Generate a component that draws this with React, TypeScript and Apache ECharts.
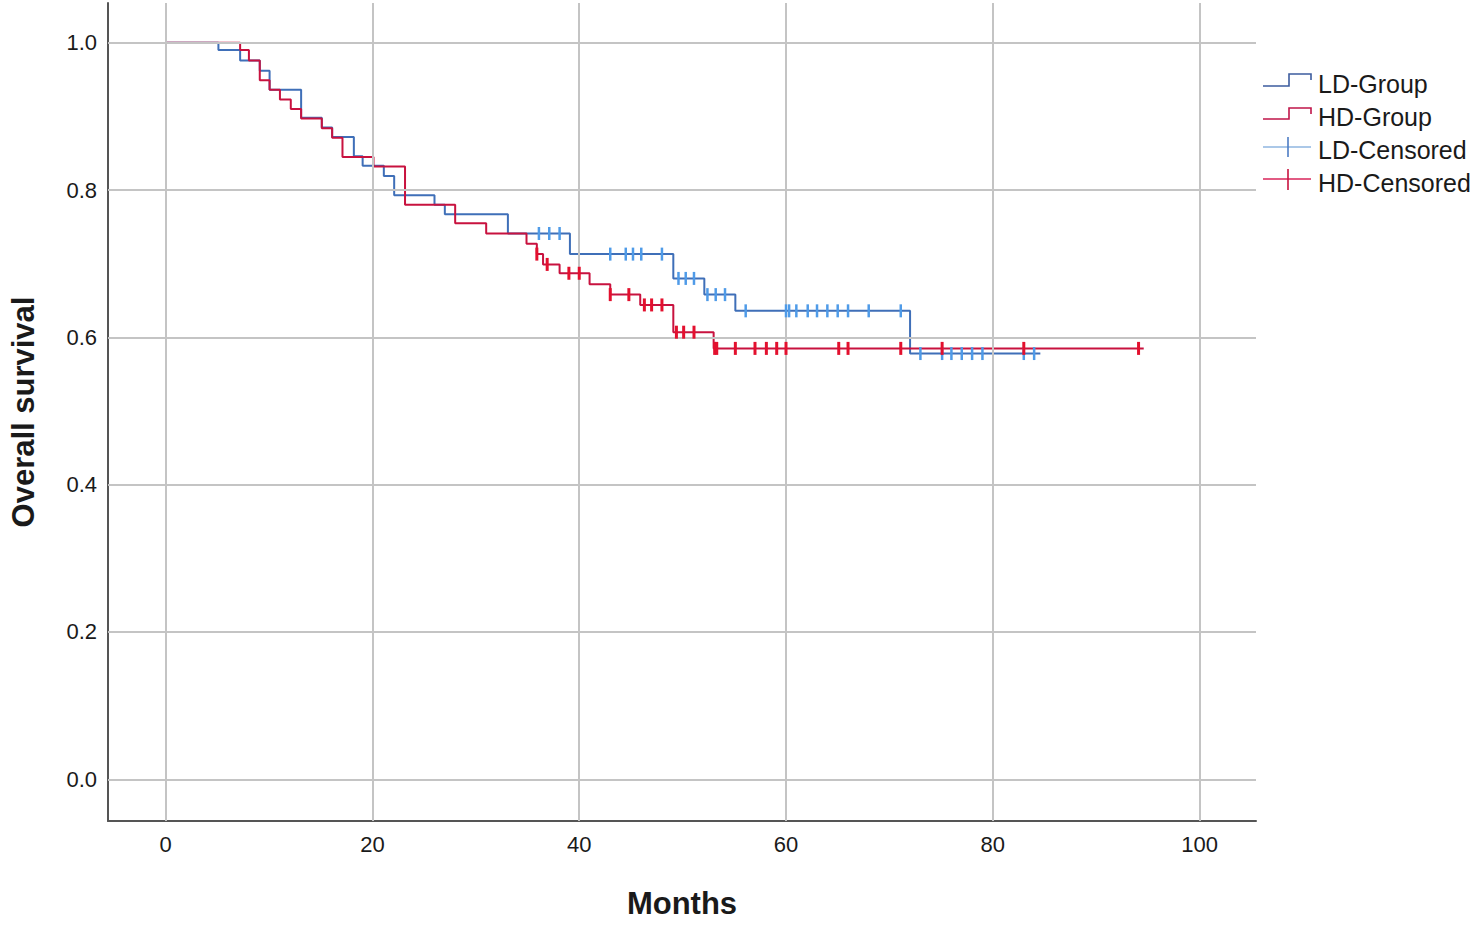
import React, { useEffect, useRef } from "react";
import * as echarts from "echarts";

// Kaplan-Meier steps (time in months, survival after the step)
const ldTimes = [0, 5.1, 7.2, 9.1, 10.05, 13.1, 15.1, 16.1, 18.2, 19.05, 21.1, 22.1, 26.0, 27.0, 33.1, 39.1, 49.1, 52.1, 55.1, 72.0, 84.6];
const ldSurv = [1.0, 0.99, 0.976, 0.962, 0.936, 0.898, 0.885, 0.872, 0.846, 0.833, 0.819, 0.793, 0.78, 0.767, 0.741, 0.713, 0.68, 0.658, 0.636, 0.578, 0.578];

const hdTimes = [0, 7.2, 8.05, 9.1, 10.05, 11.05, 12.1, 13.1, 15.1, 16.1, 17.1, 20.1, 23.15, 28.0, 31.0, 34.9, 35.9, 36.5, 38.1, 41.0, 43.0, 45.9, 49.1, 53.0, 94.6];
const hdSurv = [1.0, 0.99, 0.976, 0.949, 0.936, 0.923, 0.91, 0.897, 0.884, 0.871, 0.845, 0.832, 0.78, 0.755, 0.741, 0.727, 0.713, 0.699, 0.687, 0.672, 0.658, 0.644, 0.607, 0.585, 0.585];

// Censored times
const ldCensored = [36.1, 37.1, 38.1, 43.0, 44.5, 45.2, 46.0, 48.0, 49.6, 50.3, 51.1, 52.4, 53.2, 54.1, 56.1, 60.0, 60.3, 61.0, 62.1, 63.0, 64.0, 65.0, 66.0, 68.0, 71.1, 73.0, 75.1, 76.0, 77.0, 78.0, 79.0, 83.0, 84.0];
const hdCensored = [35.9, 36.9, 39.0, 40.0, 43.0, 44.8, 46.3, 47.0, 48.0, 49.4, 50.1, 51.1, 53.1, 53.3, 55.1, 57.0, 58.1, 59.1, 60.0, 65.1, 66.0, 71.1, 75.1, 83.0, 94.1];

const xTicks = [0, 20, 40, 60, 80, 100];
const yTicks = [0, 0.2, 0.4, 0.6, 0.8, 1.0];

const seriesNames = ["LD-Group", "HD-Group", "LD-Censored", "HD-Censored"];

const FONT = "'Liberation Sans', Arial, sans-serif";
const LD_LINE = "#3f6fb8";
const HD_LINE = "#c8123f";
const LD_CENS = "#4f9be8";
const HD_CENS = "#e3102e";

function survivalAt(times: number[], surv: number[], t: number) {
  let v = surv[0];
  for (let i = 0; i < times.length; i++) {
    if (times[i] <= t) v = surv[i];
  }
  return v;
}

function buildOption() {
  const ldData = ldTimes.map((t, i) => [t, ldSurv[i]]);
  const hdData = hdTimes.map((t, i) => [t, hdSurv[i]]);
  const ldCens = ldCensored.map((t) => [t, survivalAt(ldTimes, ldSurv, t)]);
  const hdCens = hdCensored.map((t) => [t, survivalAt(hdTimes, hdSurv, t)]);

  const gridLineStyle = { color: "#c4c4c4", width: 2, type: "solid" as const };

  const legendTextStyle = { fontSize: 25, fill: "#1a1a1a", fontFamily: FONT };

  return {
    animation: false,
    backgroundColor: "#ffffff",
    grid: { left: 107, right: 220, top: 3, bottom: 105, containLabel: false },
    xAxis: {
      type: "value",
      min: -5.58,
      max: 105.46,
      name: "Months",
      nameLocation: "middle",
      nameGap: 67,
      nameTextStyle: { fontSize: 31, fontWeight: "bold", color: "#1a1a1a", fontFamily: FONT },
      axisLine: { show: true, onZero: false, lineStyle: { color: "#555555", width: 2 } },
      axisTick: { show: false },
      splitLine: { show: false },
      axisLabel: {
        customValues: xTicks,
        fontSize: 22,
        color: "#1a1a1a",
        fontFamily: FONT,
        margin: 12,
        formatter: (v: number) => String(Math.round(v)),
      },
    },
    yAxis: {
      type: "value",
      min: -0.0566,
      max: 1.0539,
      name: "Overall survival",
      nameLocation: "middle",
      nameGap: 69,
      nameTextStyle: { fontSize: 31, fontWeight: "bold", color: "#1a1a1a", fontFamily: FONT },
      axisLine: { show: true, onZero: false, lineStyle: { color: "#555555", width: 2 } },
      axisTick: { show: false },
      splitLine: { show: false },
      axisLabel: {
        customValues: yTicks,
        fontSize: 22,
        color: "#1a1a1a",
        fontFamily: FONT,
        margin: 11,
        padding: [6, 0, 0, 0],
        formatter: (v: number) => v.toFixed(1),
      },
    },
    legend: { show: false, data: seriesNames },
    series: [
      {
        name: "grid",
        type: "line",
        data: [],
        z: 1,
        silent: true,
        markLine: {
          silent: true,
          symbol: "none",
          label: { show: false },
          lineStyle: gridLineStyle,
          data: [
            ...xTicks.map((v) => ({ xAxis: v })),
            ...yTicks.map((v) => ({ yAxis: v })),
          ],
        },
      },
      {
        name: seriesNames[0],
        type: "line",
        step: "end",
        data: ldData,
        symbol: "none",
        z: 3,
        lineStyle: { color: LD_LINE, width: 2 },
        itemStyle: { color: LD_LINE },
      },
      {
        name: seriesNames[1],
        type: "line",
        step: "end",
        data: hdData,
        symbol: "none",
        z: 4,
        lineStyle: { color: HD_LINE, width: 2 },
        itemStyle: { color: HD_LINE },
      },
      {
        name: seriesNames[2],
        type: "scatter",
        data: ldCens,
        symbol: "rect",
        symbolSize: [2.5, 13],
        z: 5,
        itemStyle: { color: LD_CENS, opacity: 1 },
      },
      {
        name: seriesNames[3],
        type: "scatter",
        data: hdCens,
        symbol: "rect",
        symbolSize: [3, 13],
        z: 6,
        itemStyle: { color: HD_CENS, opacity: 1 },
      },
    ],
    graphic: [
      {
        type: "polyline",
        shape: { points: [[1263, 86], [1289, 86], [1289, 74], [1311, 74], [1311, 80]] },
        style: { stroke: "#3d5c9e", lineWidth: 1.6, fill: "none" },
      },
      { type: "text", x: 1318, y: 84, style: { ...legendTextStyle, text: seriesNames[0], verticalAlign: "middle" } },
      {
        type: "polyline",
        shape: { points: [[1263, 119], [1289, 119], [1289, 108], [1311, 108], [1311, 114]] },
        style: { stroke: "#c0164a", lineWidth: 1.6, fill: "none" },
      },
      { type: "text", x: 1318, y: 117, style: { ...legendTextStyle, text: seriesNames[1], verticalAlign: "middle" } },
      {
        type: "line",
        shape: { x1: 1263, y1: 147, x2: 1311, y2: 147 },
        style: { stroke: "#8fb6e0", lineWidth: 1.6 },
      },
      {
        type: "line",
        shape: { x1: 1288, y1: 137, x2: 1288, y2: 157 },
        style: { stroke: "#4d7cc4", lineWidth: 1.6 },
      },
      { type: "text", x: 1318, y: 150, style: { ...legendTextStyle, text: seriesNames[2], verticalAlign: "middle" } },
      {
        type: "line",
        shape: { x1: 1263, y1: 179, x2: 1311, y2: 179 },
        style: { stroke: "#d8245a", lineWidth: 1.6 },
      },
      {
        type: "line",
        shape: { x1: 1288, y1: 169, x2: 1288, y2: 190 },
        style: { stroke: "#c8123f", lineWidth: 1.6 },
      },
      { type: "text", x: 1318, y: 183, style: { ...legendTextStyle, text: seriesNames[3], verticalAlign: "middle" } },
    ],
  };
}

export default function App() {
  const ref = useRef<HTMLDivElement>(null);
  useEffect(() => {
    if (!ref.current) return;
    const chart = echarts.init(ref.current, null, { renderer: "svg" });
    chart.setOption(buildOption() as any);
    return () => chart.dispose();
  }, []);
  return (
    <div
      ref={ref}
      style={{ position: "fixed", left: 0, top: 0, width: 1476, height: 926, background: "#ffffff" }}
    />
  );
}
